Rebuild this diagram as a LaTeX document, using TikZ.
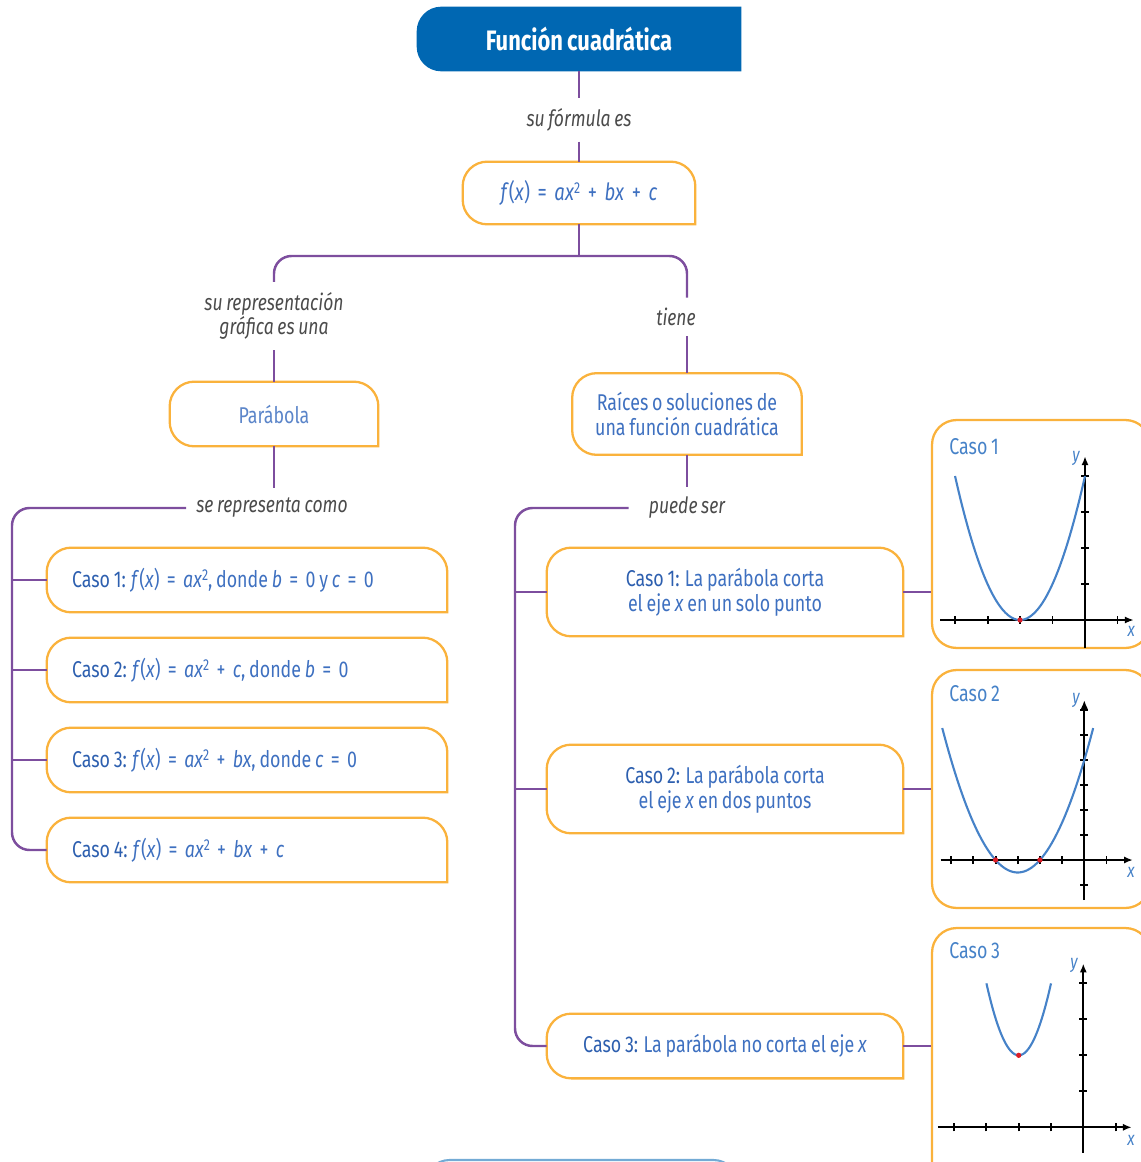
\documentclass[tikz,border=0pt]{standalone}
\usepackage{fontspec}
\setmainfont{Fira Sans}[FakeStretch=0.78, WordSpace=0.8]
\usetikzlibrary{arrows.meta,backgrounds}

\definecolor{titblue}{RGB}{0,103,178}
\definecolor{boxorange}{RGB}{250,178,60}
\definecolor{linkpurple}{RGB}{125,78,158}
\definecolor{txtblue}{RGB}{62,112,192}
\definecolor{capblue}{RGB}{45,95,175}
\definecolor{lblgray}{RGB}{75,75,75}
\definecolor{curveblue}{RGB}{70,130,200}
\definecolor{rootred}{RGB}{220,30,40}

\tikzset{
  link/.style={linkpurple, line width=1.4pt},
  verb/.style={text=lblgray, font=\fontsize{12.8}{14}\selectfont\itshape, inner sep=0.2cm, align=center},
  ctext/.style={text=txtblue, inner sep=0pt, align=center},
  titlebox/.style={text=white, font=\fontsize{16}{18}\selectfont\bfseries, minimum width=6.48cm, minimum height=1.28cm},
  leftcase/.style={text=txtblue, minimum width=8cm, minimum height=1.28cm, inner xsep=0.5cm},
  rightcase/.style={text=txtblue, minimum width=7.12cm, minimum height=1.76cm, inner sep=0pt, align=center},
  graphbox/.style={draw=boxorange, line width=1.3pt, rounded corners=14pt, minimum width=4.36cm},
  axis/.style={line width=1.2pt, -{Latex[length=5pt,width=4pt]}},
  tick/.style={line width=1.1pt},
  curve/.style={curveblue, line width=1.2pt},
  axlbl/.style={text=curveblue, font=\fontsize{11}{12}\selectfont\itshape, inner sep=1pt},
  caselbl/.style={text=curveblue, anchor=west, inner sep=0pt},
}
% box with the lower right corner left square
\newcommand{\cornerbox}[1]{\draw[boxorange, line width=1.3pt, rounded corners=14pt, line cap=rect]
  (#1.south east) -- (#1.south west) -- (#1.north west) -- (#1.north east) -- (#1.south east);}
\newcommand{\cs}[1]{\textcolor{capblue}{#1}}
\newcommand{\mi}[1]{\textit{#1}}
\newcommand{\sq}{\raisebox{0.55ex}{\fontsize{9}{9}\selectfont 2}}
\newcommand{\op}[1]{\hspace{0.32em}#1\hspace{0.32em}}
\newcommand{\lcase}[1]{\makebox[7cm][l]{#1}}

\begin{document}
\begin{tikzpicture}[x=0.02cm, y=-0.02cm, >=Latex, font=\fontsize{13}{14}\selectfont]
\useasboundingbox (0,0) rectangle (1141,1162);
\clip (0,0) rectangle (1141,1162);

% top of the map
\node[titlebox] (title) at (579,39) {Función cuadrática};
\node[verb] (sufor) at (579,120) {su fórmula es};
\node[ctext, minimum width=4.64cm, minimum height=1.24cm, font=\fontsize{13.5}{15}\selectfont] (formula) at (579,193)
  {\mi{f}(\mi{x})\op{=}\mi{ax}\sq\op{+}\mi{bx}\op{+}\mi{c}};
\coordinate (fork) at (579,256);

\node[verb] (surep) at (274,316) {su representación\\gráfica es una};
\node[verb] (tiene) at (676,317) {tiene};
\node[ctext, minimum width=4.16cm, minimum height=1.28cm, text=txtblue!85] (parab) at (274,414) {Parábola};
\node[ctext, minimum width=4.58cm, minimum height=1.62cm] (raices) at (687,414)
  {Raíces o soluciones de\\una función cuadrática};

\node[verb] (serep) at (272,508) {se representa como};
\node[verb, inner xsep=0.4cm] (puede) at (687,508) {puede ser};
\coordinate (lrail) at (12,0);
\coordinate (rrail) at (515,0);

% left column
\node[leftcase] (c1) at (247,580) {\lcase{\cs{Caso 1:} \mi{f}(\mi{x})\op{=}\mi{ax}\sq, donde \mi{b}\op{=}0 y \mi{c}\op{=}0}};
\node[leftcase] (c2) at (247,670) {\lcase{\cs{Caso 2:} \mi{f}(\mi{x})\op{=}\mi{ax}\sq\op{+}\mi{c}, donde \mi{b}\op{=}0}};
\node[leftcase] (c3) at (247,760) {\lcase{\cs{Caso 3:} \mi{f}(\mi{x})\op{=}\mi{ax}\sq\op{+}\mi{bx}, donde \mi{c}\op{=}0}};
\node[leftcase] (c4) at (247,850) {\lcase{\cs{Caso 4:} \mi{f}(\mi{x})\op{=}\mi{ax}\sq\op{+}\mi{bx}\op{+}\mi{c}}};

% right column
\node[rightcase] (rc1) at (725,592) {\cs{Caso 1:} La parábola corta\\el eje \mi{x} en un solo punto};
\node[rightcase] (rc2) at (725,789) {\cs{Caso 2:} La parábola corta\\el eje \mi{x} en dos puntos};
\node[rightcase, minimum height=1.28cm] (rc3) at (725,1046) {\cs{Caso 3:} La parábola no corta el eje \mi{x}};

\node[graphbox, minimum height=4.56cm] (g1) at (1041,534) {};
\node[graphbox, minimum height=4.76cm] (g2) at (1041,789) {};
\node[graphbox, minimum height=5.24cm] (g3) at (1041,1059) {};
\node[caselbl] (g1lbl) at (949,447) {Caso 1};
\node[caselbl] (g2lbl) at (949,694) {Caso 2};
\node[caselbl] (g3lbl) at (949,951) {Caso 3};

% outlines
\begin{scope}[on background layer]
  \fill[titblue, rounded corners=14pt] (title.south east) -- (title.south west) -- (title.north west) -- (title.north east);
\end{scope}
\foreach \n in {formula,parab,raices,c1,c2,c3,c4,rc1,rc2,rc3} {\cornerbox{\n}}

% connectors
\draw[link] (title.south) -- (sufor.north);
\draw[link] (sufor.south) -- (formula.north);
\draw[link] (formula.south) -- (fork);
\draw[link, rounded corners=10pt] (surep.north) |- (fork) -| (raices |- tiene.north);
\draw[link] (surep.south) -- (parab.north);
\draw[link] (raices |- tiene.south) -- (raices.north);
\draw[link] (parab.south) -- (parab.south |- serep.north);
\draw[link] (raices.south) -- (raices.south |- puede.north);

\draw[link, rounded corners=10pt] (serep.west) -| (lrail |- c4.west) -- (c4.west);
\foreach \n in {c1,c2,c3} \draw[link] (lrail |- \n.west) -- (\n.west);
\draw[link, rounded corners=10pt] (puede.west) -| (rrail |- rc3.west) -- (rc3.west);
\foreach \n in {rc1,rc2} \draw[link] (rrail |- \n.west) -- (\n.west);
\foreach \n/\g in {rc1/g1,rc2/g2,rc3/g3} \draw[link] (\n.east) -- (\n.east -| \g.west);

% graph 1 begin
\begin{scope}[shift={(1085,620)}, x=0.65cm, y=0.72cm]
  \draw[axis] (-4.45,0) -- (1.5,0);
  \draw[axis] (0,-0.78) -- (0,4.55);
  \foreach \i in {-4,-3,-2,-1,1} \draw[tick] (\i,-0.11) -- (\i,0.11);
  \foreach \j in {1,2,3,4} \draw[tick] (-0.12,\j) -- (0.12,\j);
  \draw[curve] plot[domain=-4:0, samples=50, smooth] (\x,{(\x+2)^2});
  \fill[rootred] (-2,0) circle (1.5pt);
  \node[axlbl] at (-0.28,4.5) {y};
  \node[axlbl] at (1.42,-0.33) {x};
\end{scope}
% graph 1 end

% graph 2 begin
\begin{scope}[shift={(1084.3,860)}, x=0.444cm, y=0.5cm]
  \draw[axis] (-6.47,0) -- (2.19,0);
  \draw[axis] (0,-1.6) -- (0,6.4);
  \foreach \i in {-6,-5,-4,-3,-2,-1,1} \draw[tick] (\i,-0.16) -- (\i,0.16);
  \foreach \j in {-1,1,2,3,4,5,6} \draw[tick] (-0.18,\j) -- (0.18,\j);
  \draw[curve] plot[domain=-6.4:0.4, samples=60, smooth] (\x,{0.5*(\x+2)*(\x+4)});
  \fill[rootred] (-4,0) circle (1.5pt);
  \fill[rootred] (-2,0) circle (1.5pt);
  \node[axlbl] at (-0.37,6.4) {y};
  \node[axlbl] at (2.1,-0.48) {x};
\end{scope}
% graph 2 end

% graph 3 begin
\begin{scope}[shift={(1083.3,1127.3)}, x=0.646cm, y=0.72cm]
  \draw[axis] (-4.5,0) -- (1.5,0);
  \draw[axis] (0,-0.7) -- (0,4.55);
  \foreach \i in {-4,-3,-2,-1,1} \draw[tick] (\i,-0.11) -- (\i,0.11);
  \foreach \j in {1,2,3,4} \draw[tick] (-0.12,\j) -- (0.12,\j);
  \draw[curve] plot[domain=-3:-1, samples=40, smooth] (\x,{2+2*(\x+2)^2});
  \fill[rootred] (-2,2) circle (1.5pt);
  \node[axlbl] at (-0.29,4.5) {y};
  \node[axlbl] at (1.48,-0.36) {x};
\end{scope}
% graph 3 end

% edge of the next box, cut by the page
\draw[titblue!55, line width=1.2pt, rounded corners=14pt] (425,1200) -- (425,1160) -- (738,1160) -- (738,1200);
\end{tikzpicture}
\end{document}
